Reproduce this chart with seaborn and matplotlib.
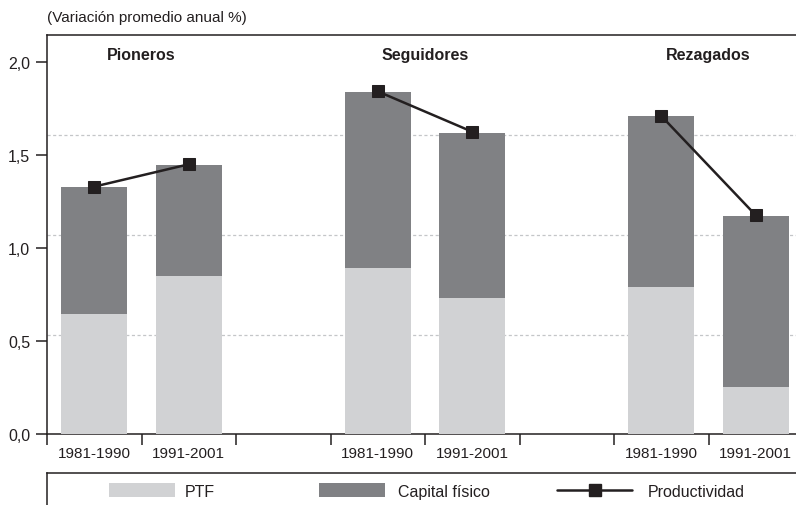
import pandas as pd
import matplotlib.pyplot as plt
import matplotlib.patches as mpatches
import matplotlib.lines as mlines
import seaborn as sns

# values
grupos = ["Pioneros", "Pioneros", "Seguidores", "Seguidores", "Rezagados", "Rezagados"]
periodos = ["1981-1990", "1991-2001", "1981-1990", "1991-2001", "1981-1990", "1991-2001"]
posiciones = [0, 1, 3, 4, 6, 7]
ptf = [0.645, 0.85, 0.892, 0.731, 0.79, 0.253]
capital = [0.683, 0.596, 0.947, 0.887, 0.92, 0.919]
productividad = [1.33, 1.45, 1.842, 1.625, 1.71, 1.176]
grupo_pos = [0.5, 3.5, 6.5]
grupo_nombres = ["Pioneros", "Seguidores", "Rezagados"]
y_ticks = [0.0, 0.5, 1.0, 1.5, 2.0]
grid_levels = [0.534, 1.071, 1.608]

c_ptf = "#d1d2d4"
c_cap = "#808184"
c_dark = "#231f20"

df = pd.DataFrame({
    "grupo": grupos,
    "periodo": periodos,
    "pos": posiciones,
    "ptf": ptf,
    "capital": capital,
    "prod": productividad,
})
df["total"] = df["ptf"] + df["capital"]

sns.set_theme(style="white")
plt.rcParams["font.family"] = ["Liberation Sans", "DejaVu Sans"]
plt.rcParams["font.size"] = 11

fig = plt.figure(figsize=(7.96, 5.06), dpi=100)
ax = fig.add_axes([47 / 796, 1 - 435 / 506, 1 - 47 / 796, (435 - 36) / 506])

for lv in grid_levels:
    ax.axhline(lv, color="#c4c6c8", lw=0.9, ls=(0, (2.5, 2)), zorder=0)

# stacked bars: total (capital colour) then PTF in front
sns.barplot(data=df, x="pos", y="total", native_scale=True, width=0.7,
            color=c_cap, saturation=1, linewidth=0, ax=ax, zorder=2)
sns.barplot(data=df, x="pos", y="ptf", native_scale=True, width=0.7,
            color=c_ptf, saturation=1, linewidth=0, ax=ax, zorder=3)
sns.lineplot(data=df, x="pos", y="prod", units="grupo", estimator=None,
             color=c_dark, lw=1.8, marker="s", markersize=8,
             markeredgecolor=c_dark, ax=ax, zorder=5, legend=False)

for xp, name in zip(grupo_pos, grupo_nombres):
    ax.text(xp, 2.04, name, ha="center", va="center", fontweight="bold",
            fontsize=11.5, color=c_dark)

ax.set_xlim(-0.5, -0.5 + 749 / 94.5)
ax.set_ylim(0, (435 - 36) / 186)
ax.set_xticks(posiciones)
ax.set_xticklabels(periodos)
ax.set_xticks([p - 0.5 for p in range(8)], minor=True)
ax.tick_params(axis="x", which="major", length=0, pad=9, labelsize=11, colors=c_dark)
ax.tick_params(axis="x", which="minor", length=8, width=1.1, direction="out",
               bottom=True, color=c_dark)
ax.set_yticks(y_ticks)
ax.set_yticklabels([f"{v:.1f}".replace(".", ",") for v in y_ticks])
ax.tick_params(axis="y", length=8, width=1.1, pad=4, left=True, labelsize=11.5,
               colors=c_dark)
ax.set_xlabel("")
ax.set_ylabel("")
for side in ["left", "top", "bottom"]:
    ax.spines[side].set_color(c_dark)
    ax.spines[side].set_linewidth(1.1)
ax.spines["right"].set_visible(False)

fig.text(47 / 796, 1 - 18 / 506, "(Variación promedio anual %)", ha="left",
         va="center", fontsize=11, color=c_dark)

# legend box: top and left rule
lax = fig.add_axes([47 / 796, 0, 1 - 47 / 796, (506 - 474) / 506])
lax.set_xticks([])
lax.set_yticks([])
lax.patch.set_alpha(0)
for side in ["right", "bottom"]:
    lax.spines[side].set_visible(False)
for side in ["left", "top"]:
    lax.spines[side].set_color(c_dark)
    lax.spines[side].set_linewidth(1.1)

items = [
    (mpatches.Patch(color=c_ptf, lw=0), "PTF", 109, 4.13, 0.63),
    (mpatches.Patch(color=c_cap, lw=0), "Capital físico", 319, 4.13, 0.8),
    (mlines.Line2D([], [], color=c_dark, lw=1.8, marker="s", markersize=8),
     "Productividad", 557, 4.7, 1.0),
]
for handle, label, xpix, hl, tp in items:
    leg = fig.legend([handle], [label], loc="center left",
                     bbox_to_anchor=(xpix / 796, 1 - 492 / 506), frameon=False,
                     handlelength=hl, handleheight=1.0, handletextpad=tp,
                     borderpad=0, borderaxespad=0, fontsize=11.5)
    for t in leg.get_texts():
        t.set_color(c_dark)

fig.savefig("out.png", dpi=100)
